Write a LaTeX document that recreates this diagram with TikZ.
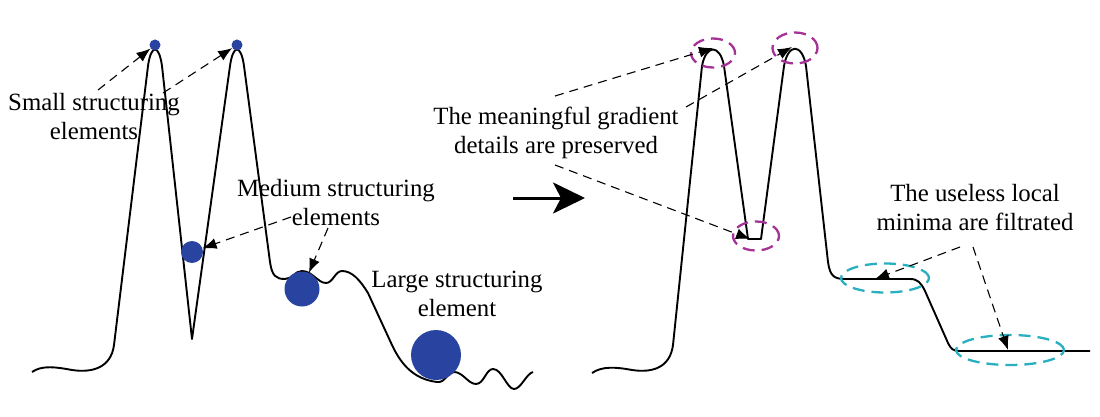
\documentclass[tikz,border=0pt]{standalone}
\usepackage{fontspec}
\setmainfont{Liberation Serif}
\usepackage{tikz}
\usetikzlibrary{arrows.meta,calc,positioning,shapes.geometric}
\definecolor{elemblue}{RGB}{40,68,160}
\definecolor{ringpink}{RGB}{165,50,150}
\definecolor{ringcyan}{RGB}{40,175,192}
\tikzset{%
	note/.style     = {align=center, inner sep=0pt, font=\fontsize{24.8}{29}\selectfont},
	blob/.style     = {circle, fill=elemblue, inner sep=0pt}, % structuring element
	profile/.style  = {line width=1.9pt, line join=round},
	pointer/.style  = {line width=1.1pt, dash pattern=on 9pt off 6pt, -{Latex[length=14pt,width=11pt]}},
	ring/.style     = {draw=#1, ellipse, line width=2.3pt, dash pattern=on 12pt off 7pt, inner sep=0pt},
	waypoint/.style = {coordinate},
}

\begin{document}
\begin{tikzpicture}[x=1pt, y=-1pt]
	\useasboundingbox (0,0) rectangle (1100,417);

	% left profile
	\draw[profile] (32,372) .. controls (42,365) and (56,367) .. (72,370)
		.. controls (92,373) and (111,368) .. (114,345)
		-- (148,66) .. controls (151,44) and (159,44) .. (162,66)
		-- (192,339) -- (230,66) .. controls (233,44) and (241,44) .. (244,66)
		-- (270,262) .. controls (272,276) and (276,279) .. (285,279)
		.. controls (292,279) and (295,271) .. (302,271)
		.. controls (312,271) and (318,283) .. (326,283)
		.. controls (333,283) and (335,271) .. (342,271)
		.. controls (352,271) and (360,280) .. (368,293)
		-- (392,345) .. controls (400,362) and (412,379) .. (437,382)
		.. controls (446,383) and (447,372) .. (454,372)
		.. controls (463,372) and (468,384) .. (476,384)
		.. controls (484,384) and (486,369) .. (493,369)
		.. controls (502,369) and (507,389) .. (514,389)
		.. controls (521,389) and (526,374) .. (533,372);

	\node[blob, minimum size=11pt] (dotA) at (155,45) {};
	\node[blob, minimum size=11pt] (dotB) at (237,45) {};
	\node[blob, minimum size=22pt] (dotV) at (192,252) {};
	\node[blob, minimum size=35pt] (dotM) at (302,289) {};
	\node[blob, minimum size=50pt] (dotL) at (436,355) {};

	\node[note] (small) at (94,116.5) {Small structuring\\elements};
	\node[note] (medium) at (336,203) {Medium structuring\\elements};
	\node[note] (large) at (457,294) {Large structuring\\element};

	\node[waypoint] (s1) at (98,90) {};
	\node[waypoint] (s2) at (163,93) {};
	\node[waypoint] (m1) at (291,217) {};
	\node[waypoint] (m2) at (328,228) {};

	\draw[pointer] (s1) -- (dotA);
	\draw[pointer] (s2) -- (dotB);
	\draw[pointer] (m1) -- (dotV);
	\draw[pointer] (m2) -- (dotM);

	% filtering step
	\node[waypoint] (go) at (513,198) {};
	\node[waypoint] (gone) at (585,198) {};
	\draw[line width=3pt, -{Stealth[length=32pt,width=31pt,inset=8pt]}] (go) -- (gone);

	% right profile
	\draw[profile] (592,373) .. controls (602,366) and (616,367) .. (632,370)
		.. controls (652,373) and (670,368) .. (673,345)
		-- (702,66) .. controls (706,44) and (720,44) .. (724,66)
		-- (748,239) -- (761,239)
		-- (784,66) .. controls (788,43) and (802,43) .. (806,66)
		-- (828,262) .. controls (830,276) and (834,279) .. (845,279)
		-- (910,279) .. controls (918,279) and (921,283) .. (925,291)
		-- (948,343) .. controls (951,349) and (953,351) .. (960,351)
		-- (1090,351);

	\node[ring=ringpink, minimum width=44pt, minimum height=29pt] (topA) at (713,53) {};
	\node[ring=ringpink, minimum width=45pt, minimum height=31pt] (topB) at (795,48) {};
	\node[ring=ringpink, minimum width=46pt, minimum height=29pt] (valley) at (756,236) {};
	\node[ring=ringcyan, minimum width=88pt, minimum height=29pt] (flatA) at (885,278) {};
	\node[ring=ringcyan, minimum width=108pt, minimum height=30pt] (flatB) at (1010,350) {};

	\node[waypoint] (pk1) at (713,48) {};
	\node[waypoint] (pk2) at (792,47) {};
	\node[waypoint] (vb) at (750,239) {};
	\node[waypoint] (fl1) at (875,279) {};
	\node[waypoint] (fl2) at (1008,350) {};

	\node[note] (kept) at (556,133) {The meaningful gradient\\details are preserved};
	\node[note] (gone2) at (975,208) {The useless local\\minima are filtrated};

	\node[waypoint] (k1) at (555,96) {};
	\node[waypoint] (k2) at (686,107) {};
	\node[waypoint] (k3) at (555,165) {};
	\node[waypoint] (u1) at (960,247) {};
	\node[waypoint] (u2) at (973,247) {};

	\draw[pointer] (k1) -- (pk1);
	\draw[pointer] (k2) -- (pk2);
	\draw[pointer] (k3) -- (vb);
	\draw[pointer] (u1) -- (fl1);
	\draw[pointer] (u2) -- (fl2);
\end{tikzpicture}
\end{document}
